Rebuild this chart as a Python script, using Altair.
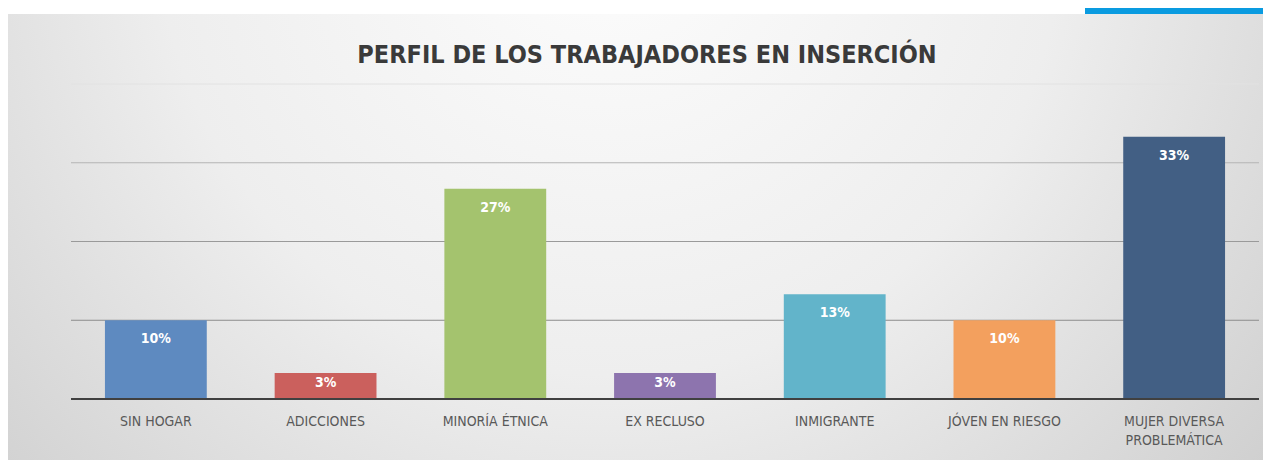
import altair as alt
import pandas as pd

title_text = "PERFIL DE LOS TRABAJADORES EN INSERCIÓN"
categories = ["SIN HOGAR", "ADICCIONES", "MINORÍA ÉTNICA", "EX RECLUSO",
              "INMIGRANTE", "JÓVEN EN RIESGO", "MUJER DIVERSA PROBLEMÁTICA"]
values = [10.0, 3.3, 26.7, 3.3, 13.3, 10.0, 33.3]
labels = ["10%", "3%", "27%", "3%", "13%", "10%", "33%"]
colors = ["#5e8ac0", "#cb605d", "#a4c36e", "#8d74ae", "#62b4ca", "#f3a05e", "#425f84"]
grid_ticks = [10, 20, 30, 40]
grid_colors = ["#8c8c8c", "#9a9a9a", "#b4b4b4", "#e2e2e2"]

df = pd.DataFrame({"cat": categories, "val": values, "lab": labels, "col": colors})
grid_df = pd.DataFrame({"v": grid_ticks, "c": grid_colors})

W, H = 1188, 315
TITLE_FONT = "DejaVu Sans Condensed, Liberation Sans Narrow, Roboto Condensed, sans-serif"
LABEL_FONT = "DejaVu Sans Condensed, Liberation Sans Narrow, Open Sans, sans-serif"

x_enc = alt.X("cat:N", sort=categories,
              scale=alt.Scale(paddingInner=0.4, paddingOuter=0.2),
              axis=alt.Axis(title=None, domain=False, ticks=False, labelAngle=0, zindex=2,
                            labelFont=LABEL_FONT, labelFontSize=14, labelColor="#595959",
                            labelPadding=15, labelLimit=300, labelLineHeight=19,
                            labelExpr="datum.value == 'MUJER DIVERSA PROBLEMÁTICA' ? ['MUJER DIVERSA', 'PROBLEMÁTICA'] : datum.value"))
y_scale = alt.Scale(domain=[0, 40])

bg = alt.Chart(alt.Data(values=[{}])).mark_rect(
    fill={"gradient": "radial",
          "x1": 0.48, "y1": 0.25, "r1": 0.0,
          "x2": 0.48, "y2": 0.25, "r2": 0.8,
          "stops": [{"offset": 0, "color": "#fdfdfd"},
                    {"offset": 0.45, "color": "#eeeeee"},
                    {"offset": 1, "color": "#c4c4c4"}]}
).encode(x=alt.value(-63), x2=alt.value(W + 4), y=alt.value(-70), y2=alt.value(H + 61))

corner = alt.Chart(alt.Data(values=[{}])).mark_rect(fill="#0a9be0").encode(
    x=alt.value(1085 - 71), x2=alt.value(W + 4), y=alt.value(-76), y2=alt.value(-70))

title = alt.Chart(alt.Data(values=[{"t": title_text}])).mark_text(
    font=TITLE_FONT, fontSize=25, fontWeight="bold", color="#3a3a3a",
    align="center", baseline="alphabetic").encode(
    x=alt.value(576), y=alt.value(-21), text="t:N")

grid = alt.Chart(grid_df).mark_rule(strokeWidth=1).encode(
    y=alt.Y("v:Q", scale=y_scale, axis=None),
    x=alt.value(0), x2=alt.value(W),
    color=alt.Color("c:N", scale=None))

bars = alt.Chart(df).mark_bar().encode(
    x=x_enc,
    y=alt.Y("val:Q", scale=y_scale, axis=None),
    color=alt.Color("col:N", scale=None))

text = alt.Chart(df).transform_calculate(
    ly="datum.val > 6 ? datum.val - 2.4 : datum.val - 1.25"
).mark_text(baseline="middle", color="white",
            font=LABEL_FONT, fontSize=14, fontWeight="bold").encode(
    x=alt.X("cat:N", sort=categories),
    y=alt.Y("ly:Q", scale=y_scale),
    text="lab:N")

base_line = alt.Chart(alt.Data(values=[{"v": 0}])).mark_rule(strokeWidth=2, color="#404040").encode(
    y=alt.Y("v:Q", scale=y_scale), x=alt.value(0), x2=alt.value(W))

chart = alt.layer(bg, corner, title, grid, bars, text, base_line).properties(
    width=W, height=H,
    autosize=alt.AutoSizeParams(type="none"),
    padding={"left": 63, "top": 76, "right": 4, "bottom": 61},
).configure_view(stroke=None).configure(background="white")

chart.save("out.html", embed_options={"renderer": "svg", "actions": False})
